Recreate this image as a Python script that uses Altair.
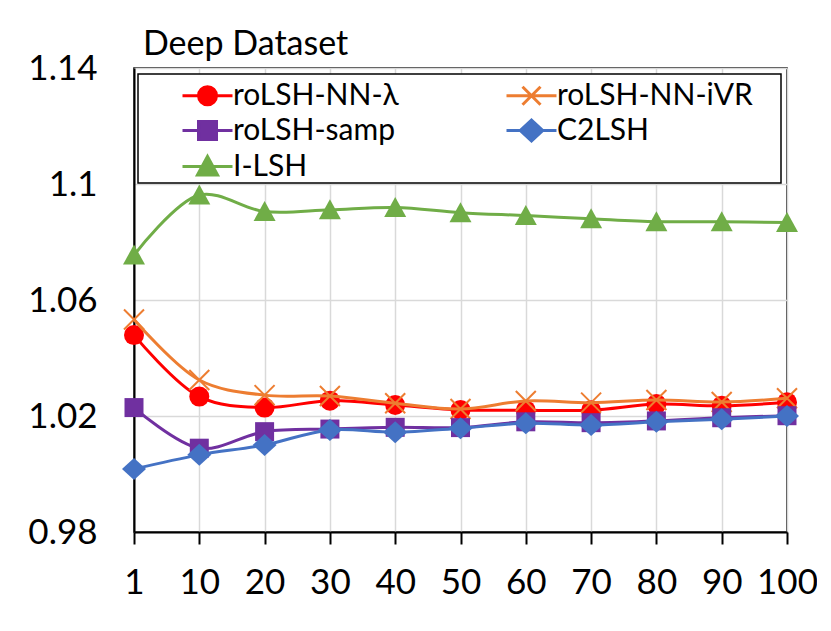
import altair as alt
import pandas as pd

x_labels = ["1", "10", "20", "30", "40", "50", "60", "70", "80", "90", "100"]
series_names = ["roLSH-NN-λ", "roLSH-NN-iVR", "roLSH-samp", "C2LSH", "I-LSH"]
series_colors = ["#FF0000", "#ED7D31", "#7030A0", "#4472C4", "#70AD47"]

v_nn_lambda = [1.0479, 1.0267, 1.0229, 1.0253, 1.0238, 1.0221, 1.0220, 1.0220, 1.0241, 1.0235, 1.0247]
v_nn_ivr = [1.0533, 1.0324, 1.0272, 1.0269, 1.0244, 1.0224, 1.0252, 1.0246, 1.0255, 1.0248, 1.0261]
v_samp = [1.0229, 1.0089, 1.0146, 1.0155, 1.0161, 1.0160, 1.0180, 1.0177, 1.0183, 1.0194, 1.0201]
v_c2lsh = [1.0017, 1.0066, 1.0100, 1.0152, 1.0144, 1.0158, 1.0175, 1.0169, 1.0180, 1.0189, 1.0200]
v_ilsh = [1.0755, 1.0962, 1.0905, 1.0911, 1.0919, 1.0901, 1.0891, 1.0880, 1.0870, 1.0870, 1.0867]

all_values = [v_nn_lambda, v_nn_ivr, v_samp, v_c2lsh, v_ilsh]

rows = []
for name, vals in zip(series_names, all_values):
    for xl, v in zip(x_labels, vals):
        rows.append({"series": name, "k": xl, "value": v})
df = pd.DataFrame(rows)

plot_shapes = [
    "circle",
    "M-1,-1L1,1M-1,1L1,-1",
    "M-0.95,-0.95H0.95V0.95H-0.95Z",
    "M0,-1.1L1.2,0L0,1.1L-1.2,0Z",
    "M0,-1.05L1.1,0.95H-1.1Z",
]
# legend symbols (size 900 -> 1 unit = 15px): line segment + marker, shifted right
legend_shapes = [
    "M-1,0H2.333M0.067,0A0.6,0.6,0,1,1,1.267,0A0.6,0.6,0,1,1,0.067,0Z",
    "M-1,0H2.333M0.067,-0.6L1.267,0.6M0.067,0.6L1.267,-0.6",
    "M-1,0H2.333M0.067,-0.6H1.267V0.6H0.067Z",
    "M-1,0H2.333M0.667,-0.7L1.417,0L0.667,0.7L-0.083,0Z",
    "M-1,0H2.333M0.667,-0.67L1.337,0.57H-0.003Z",
]

FONT = "Lato"

x_enc = alt.X("k:O", sort=x_labels, scale=alt.Scale(domain=x_labels, padding=0),
              axis=alt.Axis(title=None, labelAngle=0, grid=True, gridColor="#d9d9d9", gridWidth=1.5,
                            domainColor="black", domainWidth=2, tickColor="black", tickWidth=2,
                            tickSize=12, labelPadding=21, labelFontSize=35, labelFont=FONT,
                            labelColor="black"))
y_enc = alt.Y("value:Q", scale=alt.Scale(domain=[0.98, 1.14], nice=False, zero=False),
              axis=alt.Axis(title=None, values=[0.98, 1.02, 1.06, 1.1, 1.14], format=".2~f",
                            grid=True, gridColor="#d9d9d9", gridWidth=1.5, ticks=False,
                            domainColor="black", domainWidth=2, labelPadding=37,
                            labelFontSize=35, labelFont=FONT, labelColor="black"))

base = alt.Chart(df)

legend_box = alt.Chart(alt.Data(values=[{"a": 1}])).mark_rect(
    fill="white", stroke="black", strokeWidth=1.5
).encode(x=alt.value(4), x2=alt.value(647), y=alt.value(6), y2=alt.value(115))

layers = [legend_box]
for name, col, shp in zip(series_names, series_colors, plot_shapes):
    sub = base.transform_filter(alt.datum.series == name)
    line = sub.mark_line(interpolate="catmull-rom", strokeWidth=3, color=col).encode(x=x_enc, y=y_enc)
    if name == "roLSH-NN-iVR":
        pts = sub.mark_point(shape=shp, size=400, filled=False, stroke=col, strokeWidth=2, opacity=1).encode(x=x_enc, y=y_enc)
    else:
        pts = sub.mark_point(shape=shp, size=400, filled=True, fill=col, strokeWidth=0, opacity=1).encode(x=x_enc, y=y_enc)
    layers += [line, pts]

legend_layer = base.transform_filter("false").mark_point(filled=True, strokeWidth=3, opacity=1).encode(
    x=x_enc, y=y_enc,
    color=alt.Color("series:N", scale=alt.Scale(domain=series_names, range=series_colors),
                    legend=alt.Legend(title=None, orient="none", legendX=47, legendY=11, columns=2,
                                      direction="horizontal",
                                      columnPadding=101, rowPadding=3, symbolSize=900,
                                      symbolStrokeWidth=3, symbolOpacity=1,
                                      labelFontSize=30, labelFont=FONT,
                                      labelColor="black", labelOffset=19, padding=0,
                                      labelLimit=400)),
    stroke=alt.Stroke("series:N", scale=alt.Scale(domain=series_names, range=series_colors)),
    shape=alt.Shape("series:N", scale=alt.Scale(domain=series_names, range=legend_shapes)),
)
layers.append(legend_layer)

chart = alt.layer(*layers).properties(
    width=653, height=464,
    autosize=alt.AutoSizeParams(type="none"),
    padding={"left": 126, "top": 60, "right": 30, "bottom": 75},
    title=alt.TitleParams("Deep Dataset", anchor="start", frame="group", fontSize=34, font=FONT,
                          fontWeight="normal", color="black", dx=9, offset=-11),
).configure_view(stroke="black", strokeWidth=1.5)

chart.save("out.html", embed_options={"renderer": "svg", "actions": False})
